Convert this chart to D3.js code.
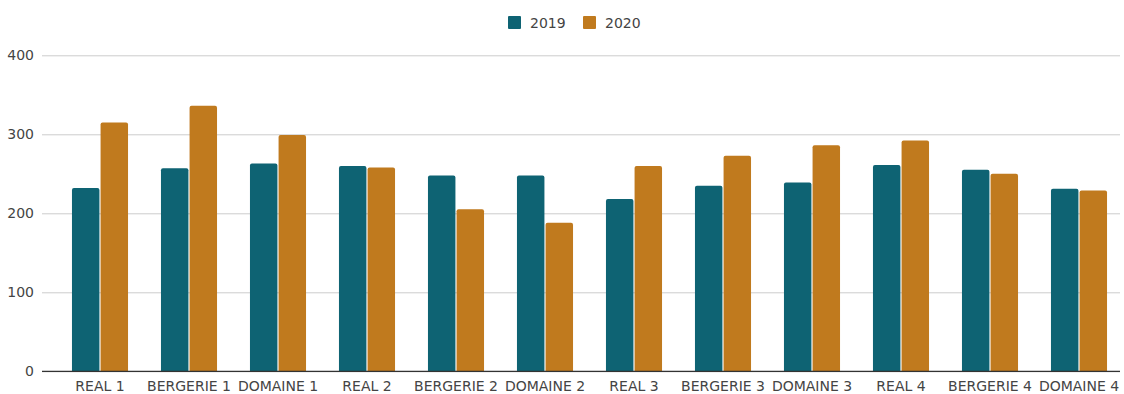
<!DOCTYPE html>
<html>
<head>
<meta charset="utf-8">
<script src="https://cdn.jsdelivr.net/npm/d3@7"></script>
<style>
  html, body { margin: 0; padding: 0; background: #fff; }
  svg { display: block; font-family: "DejaVu Sans", Verdana, sans-serif; }
  svg text { font-family: "DejaVu Sans", Verdana, sans-serif; }
</style>
</head>
<body>
<svg id="chart" width="1124" height="394"></svg>
<script>
// Sites compared across two years
const categories = ["REAL 1", "BERGERIE 1", "DOMAINE 1", "REAL 2", "BERGERIE 2", "DOMAINE 2",
                    "REAL 3", "BERGERIE 3", "DOMAINE 3", "REAL 4", "BERGERIE 4", "DOMAINE 4"];
const seriesNames = ["2019", "2020"];
const values2019 = [232, 257, 263, 260, 248, 248, 218, 235, 239, 261, 255, 231];
const values2020 = [315, 336, 299, 258, 205, 188, 260, 273, 286, 292, 250, 229];
const yTicks = [0, 100, 200, 300, 400];
const colors = ["#0e6373", "#c07a1e"];

const svg = d3.select("#chart");
const gridLeft = 42, gridRight = 1120;
const fontSize = "14px";

const y = d3.scaleLinear().domain([0, 400]).range([371.3, 55.3]);
const x = d3.scaleBand().domain(categories).range([55.5, 1123.5])
  .paddingInner(0.37).paddingOuter(0.185);
const xs = d3.scaleBand().domain(seriesNames).range([0, x.bandwidth()]).paddingInner(0.04);

// horizontal grid lines and y tick labels
const yAxis = d3.axisLeft(y).tickValues(yTicks).tickSize(-(gridRight - gridLeft)).tickPadding(8);
const gy = svg.append("g").attr("transform", `translate(${gridLeft},0)`).call(yAxis);
gy.attr("font-family", null).attr("font-size", null);
gy.select(".domain").remove();
gy.selectAll(".tick line").attr("stroke", "#cccccc").attr("stroke-width", 1);
gy.selectAll(".tick text").attr("fill", "#444").style("font-size", fontSize);

// bars
const rows = categories.map((c, i) => ({ cat: c, vals: [values2019[i], values2020[i]] }));
const groups = svg.append("g").selectAll("g").data(rows).join("g")
  .attr("transform", d => `translate(${x(d.cat)},0)`);
groups.selectAll("path").data(d => d.vals.map((v, k) => ({ v, k })))
  .join("path")
  .attr("fill", d => colors[d.k])
  .attr("d", d => {
    const x0 = xs(seriesNames[d.k]), w = xs.bandwidth();
    const top = y(d.v), bot = y(0), r = 2;
    return `M${x0},${bot}V${top + r}Q${x0},${top} ${x0 + r},${top}H${x0 + w - r}Q${x0 + w},${top} ${x0 + w},${top + r}V${bot}Z`;
  });

// baseline
svg.append("line").attr("x1", gridLeft).attr("x2", gridRight)
  .attr("y1", y(0)).attr("y2", y(0)).attr("stroke", "#333").attr("stroke-width", 1.2);

// category labels
const xAxis = d3.axisBottom(x).tickSize(0).tickPadding(10);
const gx = svg.append("g").attr("transform", `translate(0,${y(0)})`).call(xAxis);
gx.attr("font-family", null).attr("font-size", null);
gx.select(".domain").remove();
gx.selectAll(".tick text").attr("fill", "#444").style("font-size", fontSize);

// legend
const legend = svg.append("g").attr("transform", "translate(508,16)");
const legendX = [0, 75];
seriesNames.forEach((s, i) => {
  const g = legend.append("g").attr("transform", `translate(${legendX[i]},0)`);
  g.append("rect").attr("width", 13).attr("height", 13).attr("rx", 1).attr("fill", colors[i]);
  g.append("text").attr("x", 22).attr("y", 12).attr("fill", "#444")
    .style("font-size", fontSize).text(s);
});
</script>
</body>
</html>
